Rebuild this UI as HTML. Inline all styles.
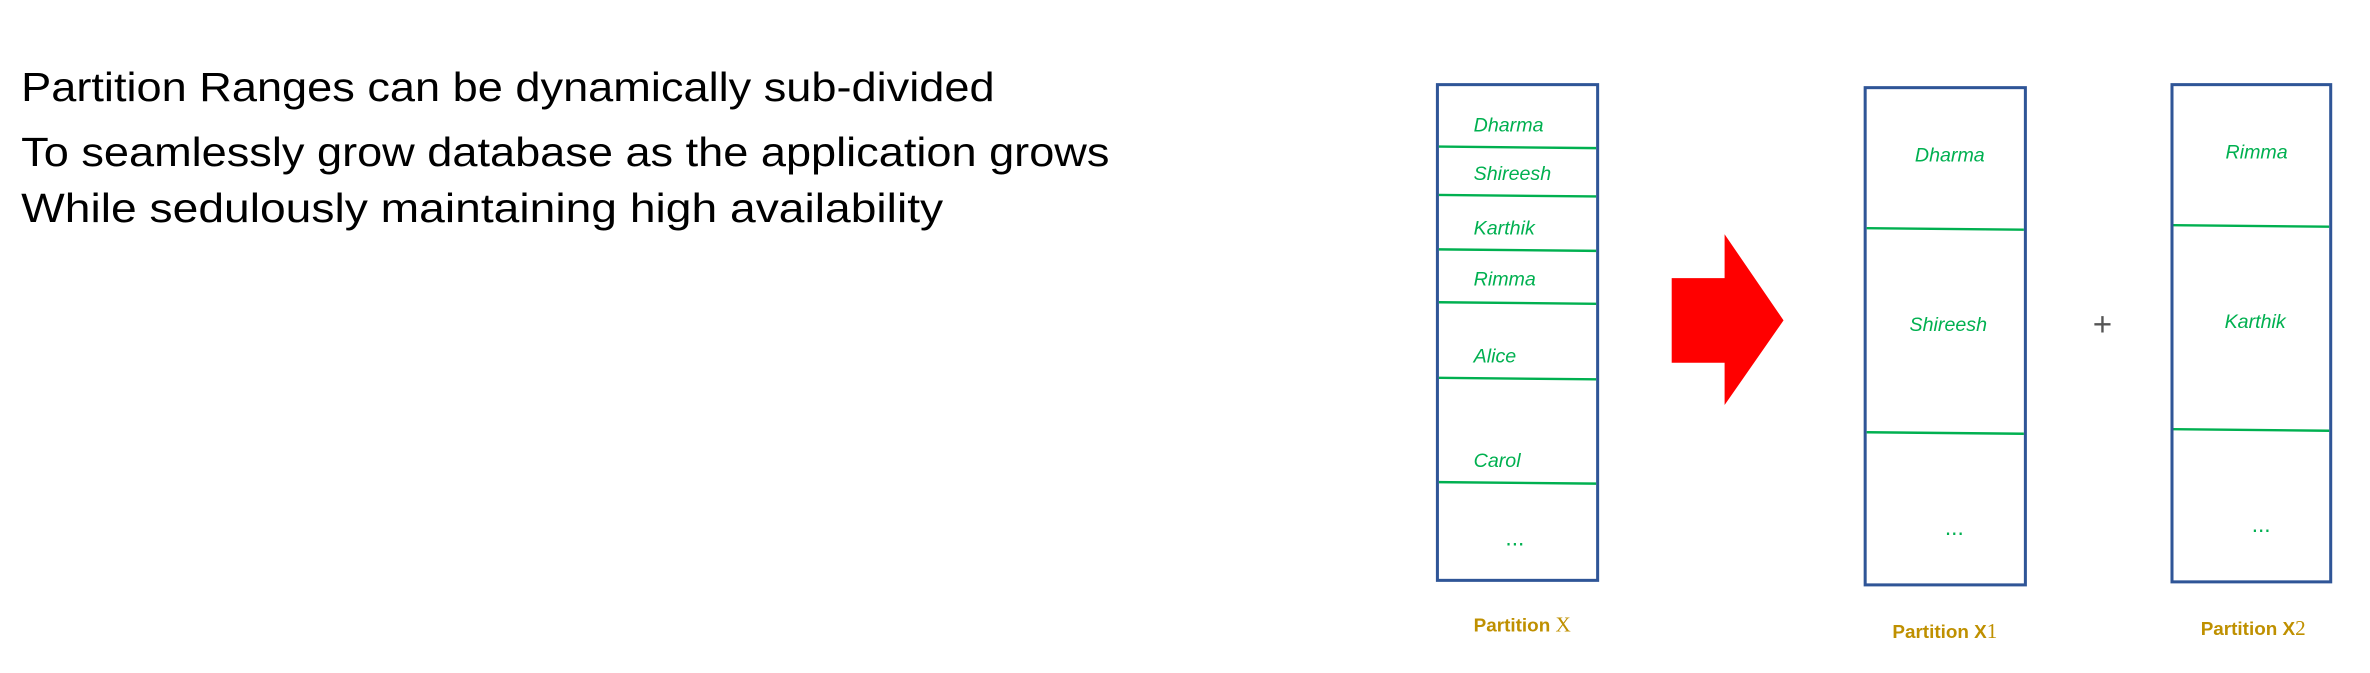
<!DOCTYPE html>
<html><head><meta charset="utf-8"><style>
html,body{margin:0;padding:0;background:#fff;}
svg{display:block;}
</style></head><body>
<svg width="2370" height="673" viewBox="0 0 1568 445.3" preserveAspectRatio="none" xmlns="http://www.w3.org/2000/svg">
<g font-family="'Liberation Sans', sans-serif" fill="#000" font-size="27">
<text x="14" y="67" textLength="644" lengthAdjust="spacingAndGlyphs">Partition Ranges can be dynamically sub-divided</text>
<text x="14" y="110" textLength="720" lengthAdjust="spacingAndGlyphs">To seamlessly grow database as the application grows</text>
<text x="14" y="147" textLength="610" lengthAdjust="spacingAndGlyphs">While sedulously maintaining high availability</text>
</g>
<g fill="none" stroke="#2f5597" stroke-width="2">
<rect x="951" y="56" width="106" height="328"/>
<rect x="1234" y="58" width="106" height="329"/>
<rect x="1437" y="56" width="105" height="329"/>
</g>
<g stroke="#00b050" stroke-width="1.6">
<line x1="952" y1="97" x2="1056" y2="98"/>
<line x1="952" y1="129" x2="1056" y2="130"/>
<line x1="952" y1="165" x2="1056" y2="166"/>
<line x1="952" y1="200" x2="1056" y2="201"/>
<line x1="952" y1="250" x2="1056" y2="251"/>
<line x1="952" y1="319" x2="1056" y2="320"/>
<line x1="1235" y1="151" x2="1339" y2="152"/>
<line x1="1235" y1="286" x2="1339" y2="287"/>
<line x1="1438" y1="149" x2="1541" y2="150"/>
<line x1="1438" y1="284" x2="1541" y2="285"/>
</g>
<g font-family="'Liberation Sans', sans-serif" font-style="italic" fill="#00b050" font-size="13">
<text x="975" y="87">Dharma</text>
<text x="975" y="119">Shireesh</text>
<text x="975" y="155">Karthik</text>
<text x="975" y="189">Rimma</text>
<text x="975" y="240">Alice</text>
<text x="975" y="309">Carol</text>
<text x="996" y="361" font-style="normal" font-size="15">...</text>
<text x="1290" y="107" text-anchor="middle">Dharma</text>
<text x="1289" y="219" text-anchor="middle">Shireesh</text>
<text x="1293" y="354" text-anchor="middle" font-style="normal" font-size="15">...</text>
<text x="1493" y="105" text-anchor="middle">Rimma</text>
<text x="1492" y="217" text-anchor="middle">Karthik</text>
<text x="1496" y="352" text-anchor="middle" font-style="normal" font-size="15">...</text>
</g>
<polygon points="1106,184 1141,184 1141,155 1180,212 1141,268 1141,240 1106,240" fill="#ff0000"/>
<text x="1391" y="222" font-family="'Liberation Sans', sans-serif" font-size="22" fill="#555" text-anchor="middle">+</text>
<g font-family="'Liberation Sans', sans-serif" font-weight="bold" fill="#bf9000" font-size="12.5">
<text x="975" y="418">Partition <tspan font-family="'Liberation Serif', serif" font-weight="normal" font-size="14">X</tspan></text>
<text x="1252" y="422">Partition X<tspan font-family="'Liberation Serif', serif" font-weight="normal" font-size="14">1</tspan></text>
<text x="1456" y="420">Partition X<tspan font-family="'Liberation Serif', serif" font-weight="normal" font-size="14">2</tspan></text>
</g>
</svg>
</body></html>
